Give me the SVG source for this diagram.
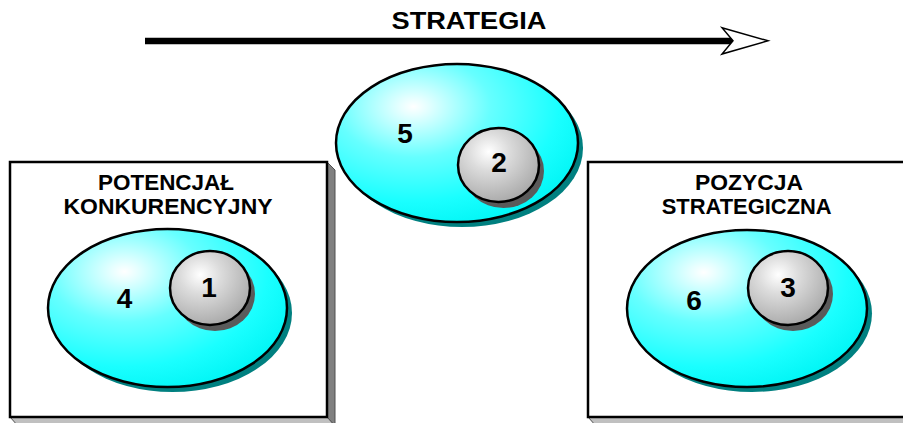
<svg xmlns="http://www.w3.org/2000/svg" width="903" height="423" viewBox="0 0 903 423">
<style>
  .lbl { font-family: "Liberation Sans", Arial, sans-serif; font-weight: bold; fill: #000; text-anchor: middle; }
  .hd { font-size: 22px; }
  .num { font-size: 28px; }
  .box { fill: #fff; stroke: #000; stroke-width: 2.5; }
  .side { fill: #808080; stroke: #505050; stroke-width: 1; }
  .bottom { fill: #c0c0c0; stroke: #505050; stroke-width: 1; }
  .big { fill: url(#cyanGrad); stroke: #000; stroke-width: 2.5; }
  .bigsh { fill: #008080; }
  .small { fill: url(#grayGrad); stroke: #000; stroke-width: 2.5; }
  .smallsh { fill: #5a5a5a; }
</style>
<defs>
  <radialGradient id="cyanGrad" cx="0.32" cy="0.27" r="0.8" fx="0.32" fy="0.27">
    <stop offset="0" stop-color="#ffffff"/>
    <stop offset="0.07" stop-color="#e6ffff"/>
    <stop offset="0.4" stop-color="#66ffff"/>
    <stop offset="0.75" stop-color="#1affff"/>
    <stop offset="1" stop-color="#00f5f5"/>
  </radialGradient>
  <radialGradient id="grayGrad" cx="0.38" cy="0.32" r="0.72" fx="0.38" fy="0.32">
    <stop offset="0" stop-color="#ffffff"/>
    <stop offset="0.35" stop-color="#dcdcdc"/>
    <stop offset="1" stop-color="#a8a8a8"/>
  </radialGradient>
</defs>

<g id="connectors">
  <line x1="145" y1="41" x2="734" y2="41" stroke="#000" stroke-width="6.5"/>
  <polygon points="722,27.7 768,40.8 722,54 733,40.8" fill="#fff" stroke="#000" stroke-width="1.5" stroke-linejoin="miter"/>
</g>

<g id="label-strategia">
  <text class="lbl" x="469" y="28.5" font-size="23" textLength="155" lengthAdjust="spacingAndGlyphs">STRATEGIA</text>
</g>

<g id="box-potencjal">
  <polygon class="side" points="327,162 335,170 335,426 327,417"/>
  <polygon class="bottom" points="10,417 18,426 335,426 327,417"/>
  <rect class="box" x="10" y="162" width="317" height="255"/>
  <text class="lbl hd" x="166" y="190" textLength="136" lengthAdjust="spacingAndGlyphs">POTENCJAŁ</text>
  <text class="lbl hd" x="168" y="213.5" textLength="209" lengthAdjust="spacingAndGlyphs">KONKURENCYJNY</text>
</g>

<g id="box-pozycja">
  <polygon class="bottom" points="588,417 596,426 912,426 912,417"/>
  <rect class="box" x="588" y="162" width="324" height="255"/>
  <text class="lbl hd" x="749" y="190" textLength="108" lengthAdjust="spacingAndGlyphs">POZYCJA</text>
  <text class="lbl hd" x="746.7" y="213.5" textLength="170" lengthAdjust="spacingAndGlyphs">STRATEGICZNA</text>
</g>

<g id="node-4">
  <ellipse class="bigsh" cx="172.5" cy="313" rx="119.5" ry="79"/>
  <ellipse class="big" cx="167.5" cy="308" rx="119.5" ry="79"/>
  <text class="lbl num" x="124.5" y="308">4</text>
</g>
<g id="node-1">
  <ellipse class="smallsh" cx="215" cy="294" rx="40" ry="37"/>
  <ellipse class="small" cx="210" cy="288" rx="40" ry="37"/>
  <text class="lbl num" x="209" y="297">1</text>
</g>

<g id="node-5">
  <ellipse class="bigsh" cx="462" cy="148" rx="121" ry="79"/>
  <ellipse class="big" cx="457" cy="143" rx="121" ry="79"/>
  <text class="lbl num" x="405" y="143">5</text>
</g>
<g id="node-2">
  <ellipse class="smallsh" cx="503.5" cy="171" rx="40.5" ry="37"/>
  <ellipse class="small" cx="498.5" cy="165" rx="40.5" ry="37"/>
  <text class="lbl num" x="499" y="171.5">2</text>
</g>

<g id="node-6">
  <ellipse class="bigsh" cx="752" cy="313.5" rx="120" ry="78.5"/>
  <ellipse class="big" cx="747" cy="308.5" rx="120" ry="78.5"/>
  <text class="lbl num" x="694" y="310">6</text>
</g>
<g id="node-3">
  <ellipse class="smallsh" cx="793" cy="294" rx="40" ry="37"/>
  <ellipse class="small" cx="788" cy="288" rx="40" ry="37"/>
  <text class="lbl num" x="788" y="297">3</text>
</g>
</svg>
